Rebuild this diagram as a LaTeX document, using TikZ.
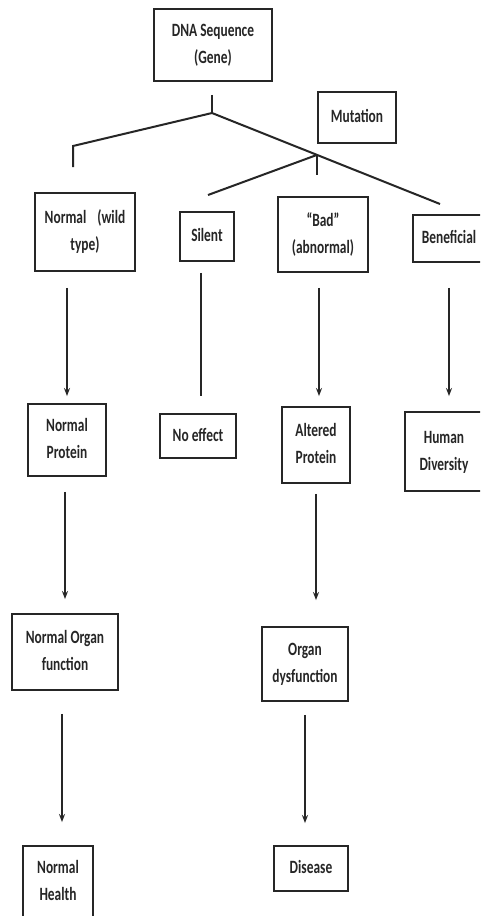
\documentclass[tikz,border=0pt]{standalone}
\usepackage{fontspec}
\usepackage{graphicx}
\setmainfont{Carlito}
\usetikzlibrary{arrows.meta,calc}
\definecolor{ink}{gray}{0.15}
\newcommand{\vtext}[1]{\scalebox{1}[1.4]{\begin{tabular}{@{}c@{}}#1\end{tabular}}}
\begin{document}
\begin{tikzpicture}[x=1pt,y=-1pt,
  box/.style={draw=ink, text=ink, line width=1.9pt, inner sep=0pt,
    font=\bfseries\fontsize{13.4}{19.3}\selectfont},
  ln/.style={draw=ink, line width=2pt},
  arr/.style={ln, -{Stealth[length=8pt,width=6pt]}}]
\clip (0,0) rectangle (480,916);
\fill[white] (0,0) rectangle (480,916);

% boxes
\node[box, minimum width=118pt, minimum height=72pt] (dna) at (213,45) {\vtext{DNA Sequence\\(Gene)}};
\node[box, minimum width=78pt, minimum height=51pt] (mut) at (357,117.5) {\vtext{Mutation}};
\node[box, minimum width=100pt, minimum height=78pt] (wt) at (85,232) {\vtext{Normal\hspace{11pt}(wild\\type)}};
\node[box, minimum width=54pt, minimum height=49pt] (sil) at (207,236.5) {\vtext{Silent}};
\node[box, minimum width=90pt, minimum height=75pt] (bad) at (323,234.5) {\vtext{“Bad”\\(abnormal)}};
\node[box, minimum width=72pt, minimum height=47pt] (ben) at (449,238.5) {\vtext{Beneficial}};
\node[box, minimum width=78pt, minimum height=72pt] (np) at (67,440) {\vtext{Normal\\Protein}};
\node[box, minimum width=76pt, minimum height=44pt] (ne) at (198,436) {\vtext{No effect}};
\node[box, minimum width=68pt, minimum height=76pt] (ap) at (316,445) {\vtext{Altered\\Protein}};
\node[box, minimum width=78pt, minimum height=79pt] (hd) at (444,451.5) {\vtext{Human\\Diversity}};
\node[box, minimum width=106pt, minimum height=76pt] (nof) at (65,652) {\vtext{Normal Organ\\function}};
\node[box, minimum width=86pt, minimum height=74pt] (od) at (305,664) {\vtext{Organ\\dysfunction}};
\node[box, minimum width=70pt, minimum height=72pt] (nh) at (58,882) {\vtext{Normal\\Health}};
\node[box, minimum width=74pt, minimum height=45pt] (dis) at (311,868.5) {\vtext{Disease}};

% branching tree
\coordinate (j1) at (212,113);
\coordinate (lk) at (73,146);
\coordinate (rb) at (440,204);
\coordinate (sl) at (208,195);
\path (j1) -- (rb) coordinate[pos=0.4605] (j2);
\draw[ln, shorten <=13pt] (dna.south -| j1) -- (j1);
\draw[ln, shorten >=25pt, line join=miter] (j1) -- (lk) -- (lk |- wt.north);
\draw[ln] (j1) -- (rb);
\draw[ln] (j2) -- (sl);
\draw[ln, shorten >=21pt] (j2) -- (j2 |- bad.north);

% vertical connectors
\draw[arr, shorten <=16pt, shorten >=7pt] (wt.south -| np.north) -- (np.north);
\draw[ln, shorten <=11pt, shorten >=17pt] ([xshift=-6pt]sil.south) -- ([xshift=-6pt]sil.south |- ne.north);
\draw[arr, shorten <=15pt, shorten >=10pt] ([xshift=-4pt]bad.south) -- ([xshift=-4pt]bad.south |- ap.north);
\draw[arr, shorten <=25pt, shorten >=15pt] (ben.south) -- (ben.south |- hd.north);
\draw[arr, shorten <=15pt, shorten >=14pt] (np.south -| nof.north) -- (nof.north);
\draw[arr, shorten <=10pt, shorten >=26pt] (ap.south) -- (ap.south |- od.north);
\draw[arr, shorten <=23pt, shorten >=23pt] ([xshift=-3pt]nof.south) -- ([xshift=-3pt]nof.south |- nh.north);
\draw[arr, shorten <=13pt, shorten >=22pt] (od.south) -- (od.south |- dis.north);
\end{tikzpicture}
\end{document}
